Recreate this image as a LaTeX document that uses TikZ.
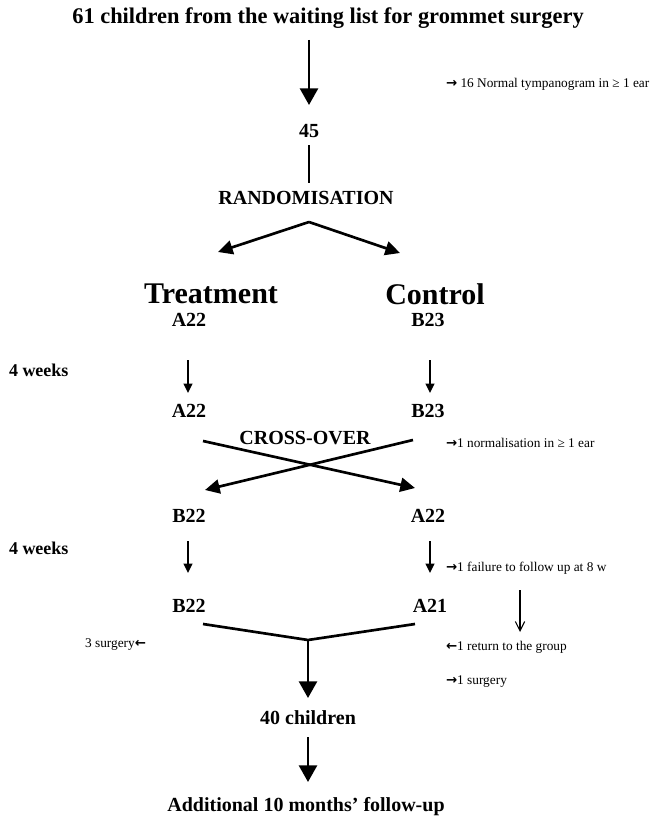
\documentclass[tikz,border=0pt]{standalone}
\usepackage{fontspec}
\setmainfont{Liberation Serif}
\newfontfamily\symfont{DejaVu Sans}
\newcommand{\rarr}{{\symfont\bfseries →}}
\newcommand{\larr}{{\symfont\bfseries ←}}
\usetikzlibrary{arrows.meta}
\begin{document}
\begin{tikzpicture}[x=0.75pt,y=-0.75pt,
  every node/.style={inner sep=0pt, outer sep=0pt},
  ttl/.style={font=\bfseries\fontsize{16.8}{19}\selectfont},
  med/.style={font=\bfseries\fontsize{15}{18}\selectfont},
  grp/.style={font=\bfseries\fontsize{22.5}{26}\selectfont},
  wk/.style={font=\bfseries\fontsize{13.5}{16}\selectfont, anchor=west},
  note/.style={font=\fontsize{10}{12}\selectfont},
  bigarr/.style={line width=2pt, -{Triangle[width=13.5pt,length=12.5pt]}},
  midarr/.style={line width=2pt, -{Triangle[width=10.5pt,length=11pt]}},
  smallarr/.style={line width=1.5pt, -{Triangle[width=6.5pt,length=7pt]}},
  thinarr/.style={line width=0.8pt, -{Straight Barb[width=7pt,length=7pt]}},
  plainline/.style={line width=2pt}
]
\useasboundingbox (0,0) rectangle (652,817);

% top
\node[ttl] (title) at (328,18) {61 children from the waiting list for grommet surgery};
\coordinate (a1s) at (309,40);
\coordinate (a1e) at (309,105);
\draw[bigarr] (a1s) -- (a1e);
\node[note, anchor=west] (n16) at (446,84) {\rarr\ 16 Normal tympanogram in ≥ 1 ear};

\node[med] (n45) at (309,131) {45};
\coordinate (l45s) at (309,145);
\coordinate (l45e) at (309,183);
\draw[plainline] (l45s) -- (l45e);
\node[med] (rand) at (306,198) {RANDOMISATION};

\coordinate (rj) at (309,222);
\coordinate (rl) at (218,252);
\coordinate (rr) at (400,253);
\draw[midarr] (rj) -- (rl);
\draw[midarr] (rj) -- (rr);

\node[grp] (treat) at (211,294) {Treatment};
\node[grp] (ctrl) at (435,294) {Control};
\node[med] (a22a) at (189,320) {A22};
\node[med] (b23a) at (428,320) {B23};

\node[wk] (w1) at (9,370) {4 weeks};
\coordinate (s1s) at (188,360);
\coordinate (s1e) at (188,393);
\coordinate (s2s) at (430,360);
\coordinate (s2e) at (430,393);
\draw[smallarr] (s1s) -- (s1e);
\draw[smallarr] (s2s) -- (s2e);

\node[med] (a22b) at (189,411) {A22};
\node[med] (b23b) at (428,411) {B23};

% cross-over
\coordinate (c1s) at (203,441);
\coordinate (c1e) at (415,488);
\coordinate (c2s) at (413,440);
\coordinate (c2e) at (205,490);
\draw[midarr] (c1s) -- (c1e);
\draw[midarr] (c2s) -- (c2e);
\node[med, fill=white, inner sep=1pt] (cross) at (305,438) {CROSS-OVER};
\node[note, anchor=west] (nnorm) at (446,443) {\rarr1 normalisation in ≥ 1 ear};

\node[med] (b22a) at (189,516) {B22};
\node[med] (a22c) at (428,516) {A22};

\node[wk] (w2) at (9,548) {4 weeks};
\coordinate (s3s) at (188,541);
\coordinate (s3e) at (188,573);
\coordinate (s4s) at (430,541);
\coordinate (s4e) at (430,573);
\draw[smallarr] (s3s) -- (s3e);
\draw[smallarr] (s4s) -- (s4e);
\node[note, anchor=west] (nfail) at (446,568) {\rarr1 failure to follow up at 8 w};

\coordinate (t1s) at (520,590);
\coordinate (t1e) at (520,632);
\draw[thinarr] (t1s) -- (t1e);

\node[med] (b22b) at (189,606) {B22};
\node[med] (a21) at (430,606) {A21};

% merge
\coordinate (ml) at (203,624);
\coordinate (mj) at (308,640);
\coordinate (mr) at (415,624);
\coordinate (me) at (308,698);
\draw[plainline, line join=miter] (ml) -- (mj) -- (mr);
\draw[bigarr] (mj) -- (me);

\node[note, anchor=east] (nsurg3) at (146,645) {3 surgery\larr};
\node[note, anchor=west] (nret) at (446,647) {\larr1 return to the group};
\node[note, anchor=west] (nsurg1) at (446,682) {\rarr1 surgery};

\node[med] (n40) at (308,718) {40 children};
\coordinate (f1s) at (308,737);
\coordinate (f1e) at (308,782);
\draw[bigarr] (f1s) -- (f1e);
\node[med] (add) at (306,807) {Additional 10 months’ follow-up};
\end{tikzpicture}
\end{document}
